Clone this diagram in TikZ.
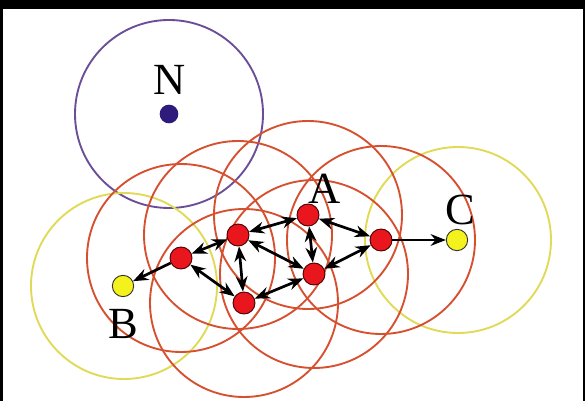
\documentclass[tikz,border=0pt]{standalone}
\usepackage{fontspec}
\setmainfont{Liberation Serif}
\usetikzlibrary{arrows.meta}
\definecolor{rangered}{HTML}{D6502F}
\definecolor{rangeyellow}{HTML}{E0DA56}
\definecolor{rangepurple}{HTML}{6A4E98}
\definecolor{relayred}{HTML}{EA161D}
\definecolor{endyellow}{HTML}{F4F21C}
\definecolor{intruder}{HTML}{2E1B7C}
\tikzset{
  relay/.style={circle, draw=black!70!red, line width=0.8pt, fill=relayred, minimum size=0.66cm, inner sep=0pt},
  endpoint/.style={circle, draw=black!80, line width=0.8pt, fill=endyellow, minimum size=0.64cm, inner sep=0pt},
  outsider/.style={circle, fill=intruder, minimum size=0.56cm, inner sep=0pt},
  reach/.style={line width=1.6pt},
  link/.style={line width=2.3pt, {Stealth[length=13pt,width=10pt]}-{Stealth[length=13pt,width=10pt]}},
  oneway/.style={line width=2.3pt, -{Stealth[length=13pt,width=10pt]}},
  tag/.style={font=\fontsize{38}{38}\selectfont, inner sep=0pt}
}

\begin{document}
\begin{tikzpicture}[x=0.03cm, y=-0.03cm]

    % frame
    \fill[black] (0,0) rectangle (585,401);
    \fill[white] (3,9) rectangle (583,401);
    \useasboundingbox (0,0) rectangle (585,401);

    % radio ranges
    \draw[rangepurple, reach] (169,114) circle (94);
    \draw[rangeyellow, reach] (124,286) circle (93);
    \draw[rangeyellow, reach] (458,240) circle (93);
    \foreach \p in {(181,258), (238,235), (244,303), (308,215), (314,274), (381,240)}
        \draw[rangered, reach] \p circle (94);

    % nodes
    \node[outsider] (n) at (169,114) {};
    \node[endpoint] (b) at (123,286) {};
    \node[endpoint] (c) at (457,240) {};
    \node[relay] (r1) at (181,258) {};
    \node[relay] (r2) at (238,235) {};
    \node[relay] (r3) at (244,303) {};
    \node[relay] (a) at (308,215) {};
    \node[relay] (r5) at (314,274) {};
    \node[relay] (r6) at (381,240) {};

    % labels
    \node[tag] (ln) at (170,80) {N};
    \node[tag] (la) at (325,189) {A};
    \node[tag] (lb) at (123,324) {B};
    \node[tag] (lc) at (460,210) {C};

    % links
    \draw[oneway] (r1) -- (b);
    \draw[link] (r1) -- (r2);
    \draw[link] (r1) -- (r3);
    \draw[link] (r2) -- (a);
    \draw[link] (r2) -- (r3);
    \draw[link] (r2) -- (r5);
    \draw[link] (a) -- (r5);
    \draw[link] (a) -- (r6);
    \draw[link] (r3) -- (r5);
    \draw[link] (r5) -- (r6);
    \draw[oneway] (r6) -- (c);

\end{tikzpicture}
\end{document}
